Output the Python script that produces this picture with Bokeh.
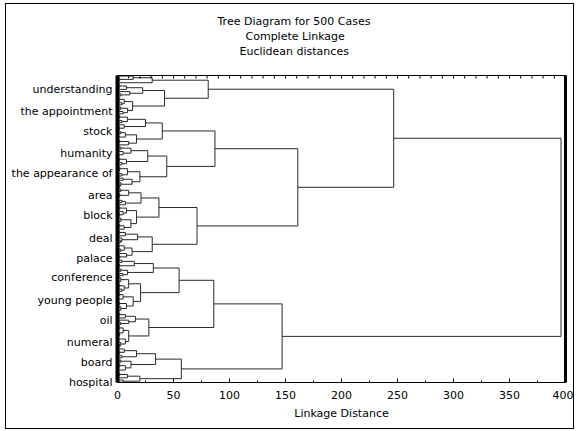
from bokeh.plotting import figure
from bokeh.models import Range1d, FixedTicker, LinearAxis, Title
from bokeh.embed import file_html
from bokeh.resources import INLINE

# ---------------- data ----------------
# Dendrogram: node = [linkage distance, upper child, lower child], leaf = L
L = 0
A1 = [81,
      [31, [14, L, [2, L, L]], L],
      [42,
       [22.5, [8, [2, L, L], L], [11, L, [3, L, L]]],
       [13.5, [6, [2, L, L], [4, L, L]], [9, [3, L, L], [5, L, L]]]]]
A2a = [87,
       [40,
        [25, [9, [2, L, L], [4, L, L]], [6, L, [2, L, L]]],
        [17, [7, [3, L, L], [1, L, L]], [10, [2, L, L], L]]],
       [44,
        [27, [12, [3, L, L], [5, L, [1, L, L]]], [8, [2, L, L], [4, L, L]]],
        [20, [9, [2, L, [1, L, L]], [4, L, L]], [13, [5, L, L], [3, L, [2, L, L]]]]]]
A2b = [71,
       [37,
        [21, [10, [3, L, L], [2, L, [1, L, L]]], [7, [4, L, L], L]],
        [17, [8, [2, L, L], [5, L, [2, L, L]]], [12, [3, L, [1, L, L]], [6, [2, L, L], L]]]],
       [31,
        [18, [7, [2, L, L], L], [4, L, [3, L, L]]],
        [13, [6, [1, L, L], [3, L, L]], [8, L, [2, L, L]]]]]
B1 = [86,
      [55,
       [32, [15, [4, L, L], [2, L, L]], [9, [3, L, L], [5, L, L]]],
       [20.6, [10, [3, L, [1, L, L]], [6, [2, L, L], [4, L, L]]],
              [14, [5, [2, L, L], [1, L, L]], [8, [2, L, L], [3, L, [1, L, L]]]]]],
      [28,
       [16, [7, [2, L, L], L], [10, L, [3, L, L]]],
       [10, [5, [2, L, L], [1, L, [2, L, L]]], [7, [1, L, L], [3, L, [2, L, L]]]]]]
B2 = [57,
      [34, [17, [6, L, [2, L, L]], [4, L, L]], [12, [3, L, L], [7, [2, L, L], [1, L, L]]]],
      [20, [9, [2, L, L], L], [5, L, L]]]
tree = [396, [246.6, A1, [161, A2a, A2b]], [147, B1, B2]]

labels = ["understanding", "the appointment", "stock", "humanity", "the appearance of",
          "area", "block", "deal", "palace", "conference", "young people", "oil",
          "numeral", "board", "hospital"]
label_leaf = [6, 16, 25, 35, 44, 54, 63, 73, 82, 91, 101, 110, 120, 129, 138]

x_major = [0, 50, 100, 150, 200, 250, 300, 350, 400]
x_minor = [25, 75, 125, 175, 225, 275, 325, 375]
top_ticks = list(range(0, 401, 10))

title_lines = ["Tree Diagram for 500 Cases", "Complete Linkage", "Euclidean distances"]
title_offsets = [100, 128, 122]   # left edge of each heading line, px from the plot's left edge

# ---------------- layout of the tree ----------------
xs, ys = [], []
counter = [0]


def place(node):
    if node == L:
        y = counter[0]
        counter[0] += 1
        return y, 0.0
    h, a, b = node
    ya, ha = place(a)
    yb, hb = place(b)
    xs.append([ha, h, h, hb])
    ys.append([ya, ya, yb, yb])
    return (ya + yb) / 2.0, h


place(tree)
N = counter[0]

FONT = "DejaVu Sans"
FS = "11px"
Y_BOTTOM = N - 1 + 0.1
Y_TOP = -0.25
FRAME_H = 305.0
unit_px = (Y_BOTTOM - Y_TOP) / FRAME_H   # data units per pixel (vertical)

p = figure(width=569, height=426, output_backend="svg", toolbar_location=None,
           x_range=Range1d(0, 400), y_range=Range1d(Y_BOTTOM, Y_TOP),
           min_border_left=111, min_border_right=10, min_border_top=71, min_border_bottom=48)
p.styles = {"border": "1px solid #000", "margin-left": "5px", "margin-top": "3px"}
p.title.visible = False
p.xgrid.visible = False
p.ygrid.visible = False
p.outline_line_color = "black"
p.outline_line_width = 1
p.background_fill_color = "white"
p.border_fill_color = "white"

p.multi_line(xs, ys, line_color="#2a2a2a", line_width=1)

# top ruler ticks (pointing down into the plot)
p.segment(x0=top_ticks, x1=top_ticks, y0=[Y_TOP] * len(top_ticks),
          y1=[Y_TOP + 3 * unit_px] * len(top_ticks), line_color="black", line_width=1)

# bottom axis
xa = p.xaxis[0]
xa.ticker = FixedTicker(ticks=x_major, minor_ticks=x_minor)
xa.axis_label = "Linkage Distance"
xa.axis_label_text_font = FONT
xa.axis_label_text_font_size = FS
xa.axis_label_text_font_style = "normal"
xa.axis_label_text_color = "black"
xa.axis_label_standoff = 5
xa.major_label_text_font = FONT
xa.major_label_text_font_size = FS
xa.major_label_text_color = "black"
xa.major_label_standoff = 8
xa.major_tick_in = 4
xa.major_tick_out = 0
xa.minor_tick_in = 2
xa.minor_tick_out = 0
xa.axis_line_color = "black"

# left axis with case labels
ya_ = p.yaxis[0]
ya_.ticker = FixedTicker(ticks=label_leaf)
ya_.major_label_overrides = {t: s for t, s in zip(label_leaf, labels)}
ya_.major_label_text_font = FONT
ya_.major_label_text_font_size = FS
ya_.major_label_text_color = "black"
ya_.major_label_standoff = 5
ya_.major_tick_in = 0
ya_.major_tick_out = 0
ya_.minor_tick_in = 0
ya_.minor_tick_out = 0
ya_.axis_line_width = 4
ya_.axis_line_color = "black"

# thick right edge
right = LinearAxis(ticker=FixedTicker(ticks=[]), major_tick_in=0, major_tick_out=0,
                   minor_tick_in=0, minor_tick_out=0,
                   axis_line_width=3, axis_line_color="black")
p.add_layout(right, "right")

# invisible top axis used as a spacer between the plot and the heading
spacer = LinearAxis(ticker=FixedTicker(ticks=[400], minor_ticks=[]),
                    major_tick_in=0, major_tick_out=18, major_tick_line_color=None,
                    minor_tick_in=0, minor_tick_out=0,
                    major_label_overrides={400: ""}, major_label_standoff=0,
                    axis_line_color="black")
p.add_layout(spacer, "above")

# three heading lines, nearest line first
for t, off in reversed(list(zip(title_lines, title_offsets))):
    p.add_layout(Title(text=t, align="left", offset=off, standoff=0,
                       text_font=FONT, text_font_size=FS, text_font_style="normal",
                       text_color="black"), "above")

open("out.html", "w").write(file_html(p, INLINE))
